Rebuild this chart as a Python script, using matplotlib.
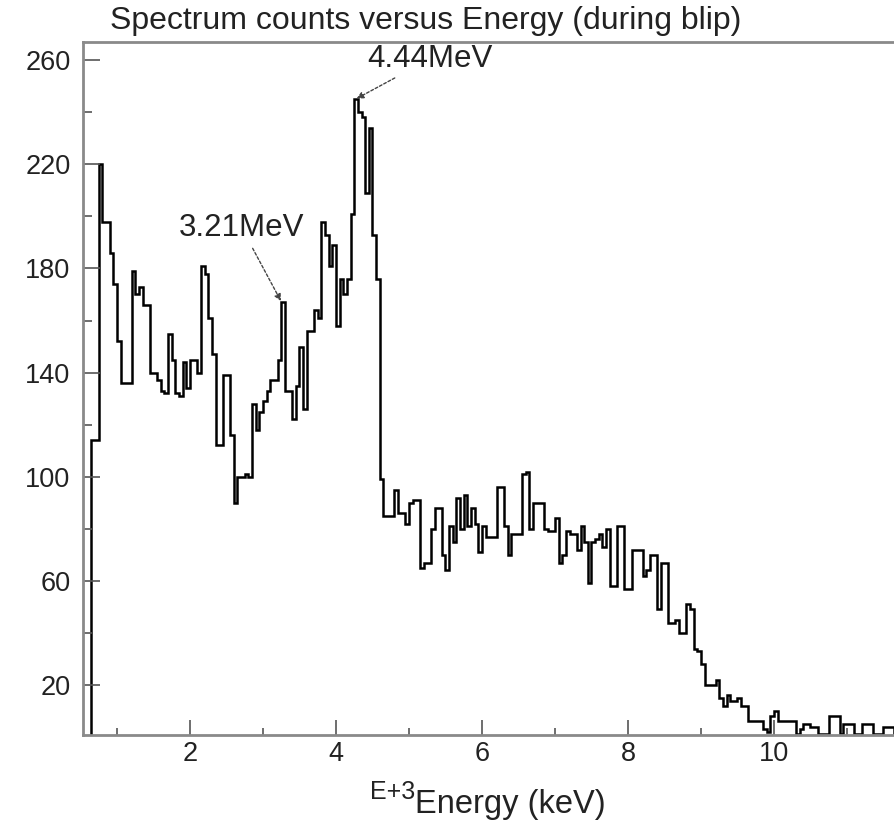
import numpy as np
import matplotlib
matplotlib.use("Agg")
import matplotlib.pyplot as plt
from matplotlib.ticker import MultipleLocator

# Spectrum counts per 50 keV bin, first bin starting at 0.65 (x1000 keV)
bin_start = 0.65
bin_width = 0.05
counts = [
    114, 114, 220, 198, 198, 186, 174, 152, 136, 136,
    136, 179, 170, 173, 166, 166, 140, 140, 137, 133,
    132, 155, 145, 132, 131, 144, 134, 145, 145, 140,
    181, 178, 161, 147, 112, 112, 139, 139, 116, 90,
    100, 100, 101, 100, 128, 118, 125, 129, 133, 137,
    137, 145, 167, 133, 133, 122, 135, 150, 126, 156,
    156, 164, 161, 198, 193, 181, 189, 158, 176, 170,
    176, 201, 245, 240, 238, 209, 234, 193, 176, 99,
    85, 85, 85, 95, 86, 86, 82, 90, 91, 91,
    65, 67, 67, 80, 88, 88, 70, 64, 81, 75,
    92, 80, 93, 81, 88, 82, 71, 81, 77, 77,
    77, 96, 96, 81, 70, 78, 78, 78, 101, 102,
    80, 90, 90, 90, 80, 79, 79, 84, 67, 70,
    79, 78, 78, 72, 81, 75, 59, 75, 76, 78,
    73, 80, 58, 58, 81, 81, 57, 57, 72, 72,
    72, 62, 64, 70, 70, 49, 67, 67, 44, 44,
    45, 40, 40, 51, 49, 34, 33, 28, 20, 20,
    20, 22, 15, 12, 16, 14, 14, 15, 12, 12,
    6, 6, 6, 6, 3, 2, 8, 10, 6, 6,
    6, 6, 6, 1, 3, 5, 5, 4, 4, 1,
    1, 1, 8, 8, 8, 1, 5, 5, 5, 1,
    1, 5, 5, 5, 1, 1, 1, 4, 4, 4,
]
edges = bin_start + bin_width * np.arange(len(counts) + 1)

# Annotated gamma lines and the index of the bin each label points at
peak_labels = ["3.21MeV", "4.44MeV"]
peak_bins = [52, 72]

title = "Spectrum counts versus Energy (during blip)"
xlabel = "Energy (keV)"
xscale_label = "E+3"

plt.rcParams["font.family"] = ["Liberation Sans", "DejaVu Sans"]

fig = plt.figure(figsize=(8.94, 8.26), dpi=100)
ax = fig.add_axes([0.0928, 0.1102, 0.9273, 0.8390])

ax.stairs(counts, edges, color="black", linewidth=1.8)

ax.set_xlim(0.534, 11.89)
ax.set_ylim(0.8, 267)

frame_col = "#8a8a8a"
for side in ["left", "bottom", "top"]:
    ax.spines[side].set_color(frame_col)
    ax.spines[side].set_linewidth(2.0)
ax.spines["right"].set_visible(False)

ax.xaxis.set_major_locator(MultipleLocator(2))
ax.xaxis.set_minor_locator(MultipleLocator(1))
ax.yaxis.set_minor_locator(MultipleLocator(20))
ax.set_yticks([20, 60, 100, 140, 180, 220, 260])

text_col = "#222222"
ax.tick_params(axis="both", which="both", direction="in", color="#555555",
               width=1.2, labelsize=19.5, labelcolor=text_col)
ax.tick_params(axis="y", which="major", length=12, pad=9)
ax.tick_params(axis="y", which="minor", length=6.5)
ax.tick_params(axis="x", which="major", length=11, pad=4)
ax.tick_params(axis="x", which="minor", length=5)
ax.tick_params(top=False, right=False, which="both")

ax.set_xlabel(xlabel, fontsize=23.5, color=text_col)
ax.xaxis.set_label_coords(0.5155, -0.078)
ax.annotate(xscale_label, xy=(0, 1.28), xycoords=ax.xaxis.label,
            ha="right", va="top", fontsize=18, color=text_col)

fig.text(0.123, 0.975, title, fontsize=23, color=text_col,
         ha="left", va="center")

arrow = dict(arrowstyle="-|>", linestyle=(0, (2, 1.5)), color="#444444",
             lw=1.0, mutation_scale=10, shrinkA=2, shrinkB=1)
b = peak_bins[0]
ax.annotate(peak_labels[0], xy=(edges[b] + bin_width * 0.1, counts[b]),
            xytext=(2.71, 195.5), textcoords="data", fontsize=22.5,
            color=text_col, ha="center", va="center", arrowprops=arrow)
b = peak_bins[1]
ax.annotate(peak_labels[1], xy=(edges[b] + bin_width * 0.3, counts[b]),
            xytext=(5.29, 260.5), textcoords="data", fontsize=22.5,
            color=text_col, ha="center", va="center", arrowprops=arrow)

fig.savefig("out.png", dpi=100)
